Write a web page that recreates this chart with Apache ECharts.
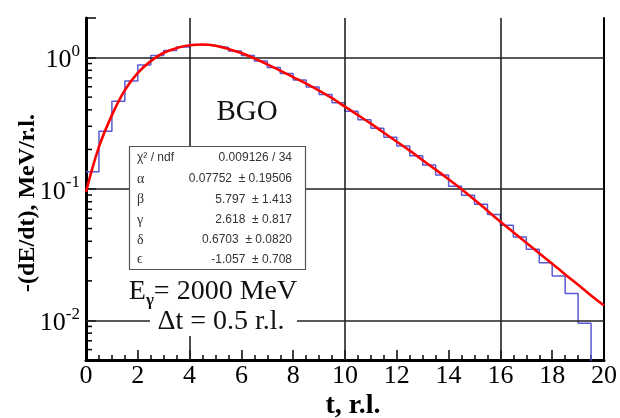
<!DOCTYPE html>
<html>
<head>
<meta charset="utf-8">
<script src="https://cdn.jsdelivr.net/npm/echarts@6/dist/echarts.min.js"></script>
<style>
  html, body { margin: 0; padding: 0; background: #fff; }
  #chart { width: 620px; height: 418px; }
</style>
</head>
<body>
<div id="chart"></div>
<script>
// Longitudinal energy deposition profile, BGO, 2000 MeV photons.
// Histogram: 0.5 r.l. bins from t = 0 to 20 (last bin is empty).
const binWidth = 0.5;
const histValues = [
  0.135, 0.275, 0.466, 0.662, 0.877, 1.039, 1.131, 1.202,
  1.245, 1.234, 1.192, 1.121, 1.036, 0.940, 0.839, 0.755,
  0.674, 0.596, 0.523, 0.454, 0.391, 0.337, 0.290, 0.248,
  0.212, 0.179, 0.152, 0.128, 0.105, 0.0898, 0.0766, 0.064,
  0.053, 0.0432, 0.0348, 0.0275, 0.0218, 0.016, 0.0095, 0.0001
];

// Fitted curve sampled along t
const curveT = [
  0, 0.5, 1, 1.5, 2, 2.5, 3, 3.5, 4, 4.5,
  5, 5.5, 6, 6.5, 7, 7.5, 8, 8.5, 9, 9.5,
  10, 10.5, 11, 11.5, 12, 12.5, 13, 13.5, 14, 14.5,
  15, 15.5, 16, 16.5, 17, 17.5, 18, 18.5, 19, 19.5, 20
];
const curveValues = [
  0.095, 0.209, 0.365, 0.566, 0.766, 0.940, 1.088, 1.181, 1.239, 1.256,
  1.230, 1.160, 1.082, 0.986, 0.888, 0.796, 0.710, 0.634, 0.561, 0.491,
  0.423, 0.365, 0.314, 0.268, 0.229, 0.196, 0.1657, 0.1403, 0.1187, 0.0996,
  0.0829, 0.0684, 0.0564, 0.0469, 0.0390, 0.0324, 0.0270, 0.0224, 0.0187, 0.0155, 0.0130
];

// Axis decorations
const xGridValues = [4, 10, 16];
const yGridValues = [1, 0.1, 0.01];
const yMinorTicks = [
  0.006, 0.007, 0.008, 0.009,
  0.02, 0.03, 0.04, 0.05, 0.06, 0.07, 0.08, 0.09,
  0.2, 0.3, 0.4, 0.5, 0.6, 0.7, 0.8, 0.9
];

// Fit statistics box
const statLabels = ['χ² / ndf', 'α', 'β', 'γ', 'δ', 'ϵ'];
const statValues = [
  '0.009126 / 34',
  '0.07752  ± 0.19506',
  '5.797  ± 1.413',
  '2.618  ± 0.817',
  '0.6703  ± 0.0820',
  '-1.057  ± 0.708'
];

const serif = '"Liberation Serif", "Times New Roman", "DejaVu Serif", serif';
const sans = '"Liberation Sans", Arial, "DejaVu Sans", sans-serif';

const histData = histValues.map((v, i) => [i * binWidth, v]);
histData.push([histValues.length * binWidth, histValues[histValues.length - 1]]);
const curveData = curveT.map((t, i) => [t, curveValues[i]]);

const chart = echarts.init(document.getElementById('chart'), null, { renderer: 'canvas' });

const statRowY = [158, 179, 199.5, 220, 240, 259.5];
const statGraphics = [];
statLabels.forEach((lab, i) => {
  statGraphics.push({
    type: 'text', x: 137, y: statRowY[i], z: 101,
    style: { text: lab, font: (i === 0 ? '12px ' + sans : '14px ' + serif), fill: '#333', align: 'left', verticalAlign: 'middle' }
  });
  statGraphics.push({
    type: 'text', x: 292, y: statRowY[i], z: 101,
    style: { text: statValues[i], font: '12px ' + sans, fill: '#333', align: 'right', verticalAlign: 'middle' }
  });
});

const option = {
  animation: false,
  backgroundColor: '#fff',
  grid: { left: 86, right: 14, top: 18, bottom: 58, containLabel: false },
  xAxis: {
    type: 'value', min: 0, max: 20, interval: 2,
    axisLine: { onZero: false, lineStyle: { color: '#000', width: 3 } },
    axisTick: { inside: true, length: 10, lineStyle: { color: '#000', width: 1.5 } },
    minorTick: { show: true, splitNumber: 4, length: 5, lineStyle: { color: '#000', width: 1.5 } },
    axisLabel: { color: '#000', fontFamily: serif, fontSize: 26, margin: 3 },
    splitLine: { show: false }
  },
  yAxis: [
    {
      type: 'log', logBase: 10, min: 0.005, max: 2, position: 'left',
      axisLine: { show: true, onZero: false, lineStyle: { color: '#000', width: 3 } },
      axisTick: { show: true, inside: true, length: 10, lineStyle: { color: '#000', width: 1.5 } },
      axisLabel: {
        margin: 6,
        formatter: function (v) {
          const e = Math.log10(v);
          const r = Math.round(e);
          if (Math.abs(e - r) > 1e-6) return '';
          return '{b|10}{s|' + r + '}';
        },
        rich: {
          b: { fontFamily: serif, fontSize: 26, color: '#000', padding: [6, 0, 0, 0] },
          s: { fontFamily: serif, fontSize: 17, color: '#000', padding: [0, 0, 12, 0] }
        }
      },
      splitLine: { show: false }
    },
    {
      type: 'log', logBase: 10, min: 0.005, max: 2, position: 'right',
      axisLine: { show: true, onZero: false, lineStyle: { color: '#000', width: 2 } },
      axisTick: { show: false }, axisLabel: { show: false }, splitLine: { show: false }
    }
  ],
  series: [
    {
      name: 'histogram', type: 'line', step: 'end', data: histData,
      showSymbol: false, symbol: 'none', clip: true, z: 3,
      lineStyle: { color: '#5a5ad6', width: 1.5 },
      markLine: {
        silent: true, symbol: 'none', animation: false,
        label: { show: false },
        lineStyle: { color: '#222', width: 1.6, type: 'solid' },
        data: xGridValues.map(v => ({ xAxis: v })).concat(yGridValues.map(v => ({ yAxis: v })))
      }
    },
    {
      name: 'fit', type: 'line', data: curveData, smooth: 0.4,
      showSymbol: false, symbol: 'none', clip: true, z: 5,
      lineStyle: { color: '#ff0000', width: 2.6 }
    },
    {
      name: 'yMinorTicks', type: 'custom', z: 6, silent: true,
      data: yMinorTicks.map(v => [0, v]),
      renderItem: function (params, api) {
        const p = api.coord([0, api.value(1)]);
        return {
          type: 'line',
          shape: { x1: p[0], y1: p[1], x2: p[0] + 6, y2: p[1] },
          style: { stroke: '#000', lineWidth: 1.5 }
        };
      }
    }
  ],
  graphic: [
    // white backing behind the beam/bin annotation
    { type: 'rect', x: 150, y: 270, z: 99, shape: { width: 147, height: 66 }, style: { fill: '#fff' } },
    // statistics box
    { type: 'rect', x: 129.5, y: 146.5, z: 100, shape: { width: 176, height: 123 }, style: { fill: '#fff', stroke: '#555', lineWidth: 1.2 } },
    ...statGraphics,
    { type: 'text', x: 247, y: 112, z: 101,
      style: { text: 'BGO', font: '29px ' + serif, fill: '#111', align: 'center', verticalAlign: 'middle' } },
    { type: 'text', x: 213, y: 292, z: 101,
      style: {
        text: '{n|E}{g|γ}{n|= 2000 MeV}', align: 'center', verticalAlign: 'middle',
        rich: {
          n: { font: '28px ' + serif, fill: '#111', lineHeight: 34 },
          g: { font: 'bold 17px ' + serif, fill: '#111', lineHeight: 17, verticalAlign: 'bottom' }
        }
      } },
    { type: 'text', x: 221, y: 322, z: 101,
      style: { text: 'Δt = 0.5 r.l.', font: '28px ' + serif, fill: '#111', align: 'center', verticalAlign: 'middle' } },
    // axis titles
    { type: 'text', x: 353, y: 406, z: 101,
      style: { text: 't, r.l.', font: 'bold 28px ' + serif, fill: '#000', align: 'center', verticalAlign: 'middle' } },
    { type: 'text', x: 28, y: 203, z: 101, rotation: Math.PI / 2,
      style: { text: '-(dE/dt), MeV/r.l.', font: 'bold 24px ' + serif, fill: '#000', align: 'center', verticalAlign: 'middle' } }
  ]
};

chart.setOption(option);
</script>
</body>
</html>
